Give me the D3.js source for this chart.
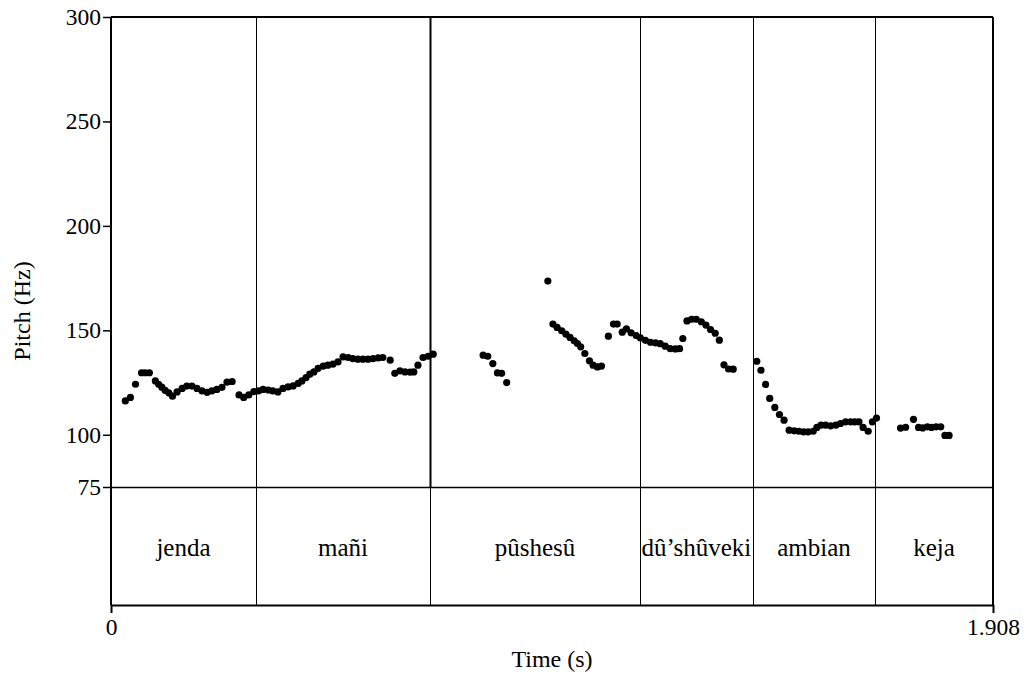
<!DOCTYPE html>
<html>
<head>
<meta charset="utf-8">
<script src="https://cdn.jsdelivr.net/npm/d3@7"></script>
<style>
  html, body { margin: 0; padding: 0; background: #fff; }
  svg text { font-family: "Liberation Serif", "Times New Roman", serif; fill: #000; }
</style>
</head>
<body>
<svg id="chart" width="1026" height="675"></svg>
<script>
// Pitch track (time in seconds, F0 in Hz)
const timesSec = [
  0.031, 0.042, 0.053, 0.066, 0.074, 0.083, 0.096, 0.103, 0.110, 0.117, 0.125, 0.133,
  0.143, 0.154, 0.164, 0.175, 0.186, 0.197, 0.208, 0.218, 0.229, 0.240, 0.251, 0.262,
  0.277, 0.287, 0.298, 0.309, 0.319, 0.329, 0.340, 0.350, 0.361, 0.372, 0.383, 0.394,
  0.405, 0.413, 0.422, 0.430, 0.439, 0.448, 0.459, 0.469, 0.480, 0.491, 0.502, 0.513,
  0.523, 0.534, 0.545, 0.556, 0.567, 0.578, 0.588, 0.604,
  0.614, 0.625, 0.636, 0.647, 0.655, 0.664, 0.675, 0.686, 0.697,
  0.805, 0.815, 0.826, 0.836, 0.845, 0.856,
  0.945, 0.956, 0.965, 0.975, 0.984, 0.993, 1.002, 1.009, 1.016, 1.025, 1.035, 1.043,
  1.052, 1.061, 1.076, 1.087, 1.095, 1.106, 1.115, 1.125, 1.136, 1.145, 1.156, 1.167,
  1.178, 1.188, 1.199, 1.210, 1.221, 1.230, 1.237, 1.246, 1.256, 1.266, 1.277, 1.287,
  1.297, 1.307, 1.316, 1.326, 1.336, 1.346,
  1.397, 1.406, 1.416, 1.425, 1.436, 1.446, 1.456, 1.467, 1.478, 1.488, 1.498, 1.508,
  1.519, 1.527, 1.536, 1.546, 1.557, 1.568, 1.578, 1.589, 1.600, 1.609, 1.618, 1.627,
  1.638, 1.647, 1.656,
  1.708, 1.719, 1.736, 1.747, 1.756, 1.766, 1.775, 1.785, 1.795, 1.804, 1.813
];
const pitchHz = [
  116.2, 117.9, 124.2, 129.7, 129.7, 129.7, 125.8, 124.2, 122.8, 121.3, 120.1, 118.5,
  120.5, 122.2, 123.3, 123.3, 122.2, 121.0, 120.3, 121.0, 121.7, 122.7, 125.2, 125.5,
  119.1, 117.9, 119.1, 120.7, 121.0, 121.7, 121.4, 121.0, 120.5, 122.2, 122.9, 123.4,
  124.6, 125.8, 127.4, 129.0, 130.1, 131.8, 132.9, 133.3, 133.8, 134.9, 137.3, 137.0,
  136.5, 136.2, 136.2, 136.2, 136.5, 136.8, 137.0, 135.7,
  129.4, 130.6, 130.1, 130.0, 130.1, 133.3, 137.0, 137.6, 138.6,
  138.1, 137.6, 134.1, 129.6, 129.4, 125.0,
  173.6, 153.0, 151.4, 149.8, 148.2, 146.6, 145.0, 143.7, 142.1, 138.9, 135.4, 133.3,
  132.5, 132.9, 147.2, 153.0, 153.0, 149.1, 150.7, 148.8, 147.5, 146.4, 145.2, 144.3,
  144.0, 143.6, 142.4, 141.2, 141.1, 141.2, 146.1, 154.5, 155.3, 155.3, 154.1, 152.5,
  150.4, 148.6, 145.3, 133.5, 131.5, 131.4,
  135.2, 130.9, 124.1, 117.4, 113.1, 109.7, 107.0, 102.2, 101.9, 101.7, 101.4, 101.4,
  101.7, 103.5, 104.6, 104.6, 104.3, 104.6, 105.4, 106.2, 106.2, 106.2, 106.2, 103.5,
  101.7, 106.2, 108.0,
  103.2, 103.6, 107.4, 103.5, 103.3, 103.8, 103.5, 103.8, 103.8, 99.7, 99.7
];

// Word tier
const words = ["jenda", "mañi", "pûshesû", "dû\u2019shûveki", "ambian", "keja"];
const wordBoundaries = [0, 0.3137, 0.690, 1.1443, 1.3887, 1.6526, 1.908];

// Axis ticks
const pitchTicks = [75, 100, 150, 200, 250, 300];
const timeTicks = [0, 1.908];
const timeTickLabels = ["0", "1.908"];

const svg = d3.select("#chart");

const plotLeft = 111, plotRight = 993, plotTop = 17, pitchBottom = 487, tierBottom = 605;

const x = d3.scaleLinear().domain([0, 1.908]).range([plotLeft, plotRight]);
const y = d3.scaleLinear().domain([75, 300]).range([pitchBottom, plotTop]);

// Word boundaries (full height)
svg.append("g").selectAll("line")
  .data(wordBoundaries.slice(1, -1))
  .join("line")
  .attr("x1", d => Math.round(x(d)) + 0.5)
  .attr("x2", d => Math.round(x(d)) + 0.5)
  .attr("y1", plotTop)
  .attr("y2", tierBottom)
  .attr("stroke", "#000")
  .attr("stroke-width", 1);

// The phrase boundary after "mañi" is drawn heavier in the pitch panel
svg.append("line")
  .attr("x1", Math.round(x(wordBoundaries[2])) + 0.5)
  .attr("x2", Math.round(x(wordBoundaries[2])) + 0.5)
  .attr("y1", plotTop).attr("y2", pitchBottom)
  .attr("stroke", "#000").attr("stroke-width", 2);

// Frame: top, right, separator at 75 Hz
svg.append("line").attr("x1", plotLeft).attr("x2", plotRight).attr("y1", plotTop).attr("y2", plotTop)
  .attr("stroke", "#000").attr("stroke-width", 2);
svg.append("line").attr("x1", plotRight).attr("x2", plotRight).attr("y1", plotTop).attr("y2", tierBottom)
  .attr("stroke", "#000").attr("stroke-width", 2);
svg.append("line").attr("x1", plotLeft).attr("x2", plotRight)
  .attr("y1", y(75) + 0.5).attr("y2", y(75) + 0.5)
  .attr("stroke", "#000").attr("stroke-width", 1.3);

// Pitch axis
const yAxis = svg.append("g")
  .attr("transform", `translate(${plotLeft},0)`)
  .call(d3.axisLeft(y).tickValues(pitchTicks).tickSize(8).tickSizeOuter(0).tickPadding(2));
yAxis.select(".domain").attr("d", `M0,${plotTop}V${tierBottom}`).attr("stroke-width", 2);
yAxis.selectAll(".tick line").attr("stroke-width", 1.5);
yAxis.selectAll(".tick text").style("font-size", "23.5px").attr("fill", "#000");

// Time axis
const xAxis = svg.append("g")
  .attr("transform", `translate(0,${tierBottom})`)
  .call(d3.axisBottom(x).tickValues(timeTicks).tickSize(8).tickSizeOuter(0).tickPadding(5)
    .tickFormat((d, i) => timeTickLabels[i]));
xAxis.select(".domain").attr("stroke-width", 2);
xAxis.selectAll(".tick line").attr("stroke-width", 2);
xAxis.selectAll(".tick text").style("font-size", "23.5px").attr("fill", "#000");

// Word labels centred in each interval
svg.append("g").selectAll("text")
  .data(words)
  .join("text")
  .attr("x", (d, i) => x((wordBoundaries[i] + wordBoundaries[i + 1]) / 2))
  .attr("y", 556)
  .attr("text-anchor", "middle")
  .style("font-size", "25px")
  .text(d => d);

// Pitch points
svg.append("g").selectAll("circle")
  .data(timesSec.map((t, i) => [t, pitchHz[i]]))
  .join("circle")
  .attr("cx", d => x(d[0]))
  .attr("cy", d => y(d[1]))
  .attr("r", 3.6)
  .attr("fill", "#000");

// Axis titles
svg.append("text")
  .attr("x", (plotLeft + plotRight) / 2)
  .attr("y", 667)
  .attr("text-anchor", "middle")
  .style("font-size", "24px")
  .text("Time (s)");

svg.append("text")
  .attr("transform", `translate(30,${(plotTop + tierBottom) / 2}) rotate(-90)`)
  .attr("text-anchor", "middle")
  .style("font-size", "24px")
  .text("Pitch (Hz)");
</script>
</body>
</html>
